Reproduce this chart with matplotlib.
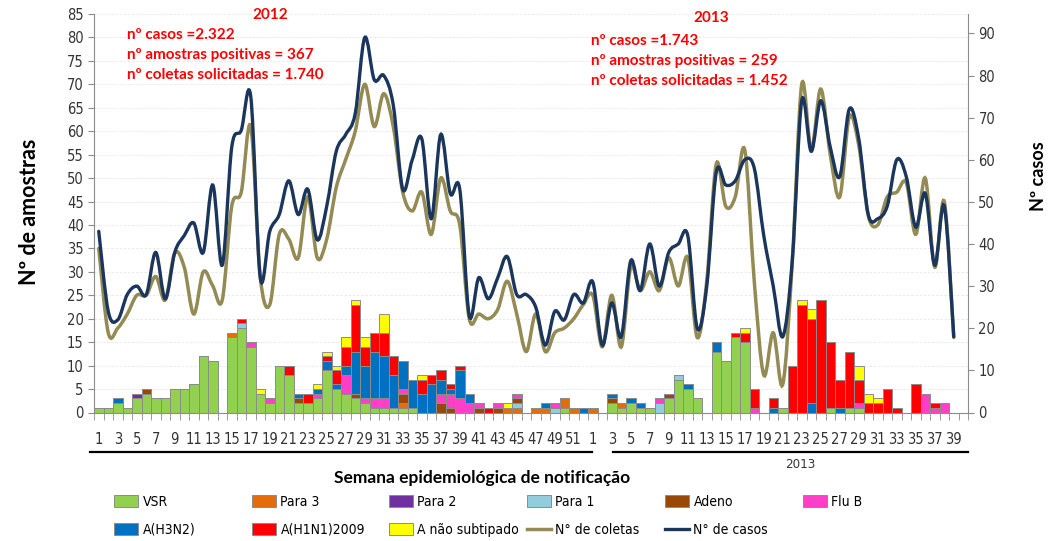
import numpy as np
import matplotlib
matplotlib.use("Agg")
import matplotlib.pyplot as plt
from matplotlib.path import Path
from matplotlib.patches import PathPatch, Patch
from matplotlib.lines import Line2D

# ---- data (semana epidemiologica: 2012 s1-52, 2013 s1-40) ----
weeks_2012 = list(range(1, 53))
weeks_2013 = list(range(1, 41))

vsr_2012 = [1, 1, 2, 1, 3, 4, 3, 3, 5, 5, 6, 12, 11, 0, 16, 18, 14, 4, 2, 10,
            8, 2, 2, 3, 9, 5, 4, 3, 2, 1, 1, 1, 1, 1, 0, 0, 0, 0, 0, 0,
            0, 0, 0, 0, 0, 0, 0, 0, 0, 1, 0, 0]
vsr_2013 = [0, 0, 2, 1, 2, 1, 1, 0, 3, 7, 5, 3, 0, 13, 11, 16, 15, 0, 0, 0,
            1, 0, 0, 0, 0, 1, 0, 1, 1, 0, 0, 0, 0, 0, 0, 0, 0, 0, 0, 0]
para3_2012 = [0, 0, 0, 0, 0, 0, 0, 0, 0, 0, 0, 0, 0, 0, 1, 0, 0, 0, 0, 0,
              0, 0, 0, 0, 0, 0, 0, 0, 0, 0, 0, 0, 1, 0, 0, 0, 0, 0, 0, 0,
              0, 0, 0, 1, 1, 0, 1, 1, 0, 2, 1, 0]
para3_2013 = [1, 0, 0, 1, 0, 0, 0, 0, 0, 0, 0, 0, 0, 0, 0, 0, 0, 0, 0, 0,
              0, 0, 0, 0, 0, 0, 0, 0, 0, 0, 0, 0, 0, 0, 0, 0, 0, 0, 0, 0]
para2_2012 = [0, 0, 0, 0, 1, 0, 0, 0, 0, 0, 0, 0, 0, 0, 0, 0, 0, 0, 0, 0,
              0, 0, 0, 0, 0, 0, 0, 0, 0, 0, 0, 0, 0, 0, 0, 0, 0, 0, 0, 0,
              0, 0, 0, 0, 0, 0, 0, 0, 0, 0, 0, 0]
para2_2013 = [0] * 40
para1_2012 = [0, 0, 0, 0, 0, 0, 0, 0, 0, 0, 0, 0, 0, 0, 0, 1, 0, 0, 0, 0,
              0, 0, 0, 0, 0, 0, 0, 0, 0, 0, 0, 0, 0, 0, 0, 0, 0, 0, 0, 0,
              0, 0, 0, 0, 1, 0, 0, 0, 1, 0, 0, 0]
para1_2013 = [0, 0, 0, 0, 0, 0, 0, 2, 0, 1, 0, 0, 0, 0, 0, 0, 0, 0, 0, 0,
              0, 0, 0, 0, 0, 0, 0, 0, 0, 0, 0, 0, 0, 0, 0, 0, 0, 0, 0, 0]
adeno_2012 = [0, 0, 0, 0, 0, 1, 0, 0, 0, 0, 0, 0, 0, 0, 0, 0, 0, 0, 0, 0,
              0, 1, 0, 0, 0, 0, 0, 1, 0, 0, 0, 0, 2, 0, 0, 0, 2, 1, 0, 0,
              1, 0, 1, 0, 1, 0, 0, 0, 0, 0, 0, 0]
adeno_2013 = [0, 0, 1, 0, 0, 0, 0, 0, 1, 0, 0, 0, 0, 0, 0, 0, 0, 0, 0, 0,
              0, 0, 0, 0, 0, 0, 0, 0, 0, 0, 0, 0, 0, 0, 0, 0, 0, 0, 0, 0]
flub_2012 = [0, 0, 0, 0, 0, 0, 0, 0, 0, 0, 0, 0, 0, 0, 0, 0, 1, 0, 1, 0,
             0, 0, 0, 1, 0, 0, 4, 0, 1, 2, 2, 0, 1, 0, 0, 0, 2, 3, 3, 2,
             1, 0, 1, 0, 1, 0, 0, 0, 1, 0, 0, 0]
flub_2013 = [0, 0, 0, 0, 0, 0, 0, 1, 0, 0, 0, 0, 0, 0, 0, 0, 0, 1, 0, 0,
             0, 0, 0, 0, 0, 0, 0, 0, 1, 0, 0, 0, 0, 0, 0, 4, 1, 2, 0, 0]
h3n2_2012 = [0, 0, 1, 0, 0, 0, 0, 0, 0, 0, 0, 0, 0, 0, 0, 0, 0, 0, 0, 0,
             0, 1, 0, 1, 2, 1, 2, 9, 7, 10, 9, 7, 6, 6, 4, 6, 3, 1, 6, 2,
             0, 0, 0, 0, 0, 0, 0, 1, 0, 0, 0, 1]
h3n2_2013 = [0, 0, 1, 0, 1, 1, 0, 0, 0, 0, 1, 0, 0, 2, 0, 0, 0, 0, 0, 1,
             0, 0, 0, 2, 0, 0, 1, 0, 0, 0, 0, 0, 0, 0, 0, 0, 0, 0, 0, 0]
h1n1_2012 = [0, 0, 0, 0, 0, 0, 0, 0, 0, 0, 0, 0, 0, 0, 0, 1, 0, 0, 0, 0,
             2, 0, 2, 0, 1, 3, 4, 10, 4, 4, 5, 4, 0, 0, 3, 2, 2, 1, 1, 0,
             0, 1, 0, 0, 0, 0, 0, 0, 0, 0, 0, 0]
h1n1_2013 = [0, 0, 0, 0, 0, 0, 0, 0, 0, 0, 0, 0, 0, 0, 0, 1, 2, 4, 0, 2,
             0, 10, 23, 18, 24, 14, 6, 12, 5, 2, 2, 5, 1, 0, 6, 0, 1, 0, 0, 0]
anst_2012 = [0, 0, 0, 0, 0, 0, 0, 0, 0, 0, 0, 0, 0, 0, 0, 0, 0, 1, 0, 0,
             0, 0, 0, 1, 1, 1, 2, 1, 2, 0, 4, 0, 0, 0, 1, 0, 0, 0, 0, 0,
             0, 0, 0, 1, 0, 0, 0, 0, 0, 0, 0, 0]
anst_2013 = [0, 0, 0, 0, 0, 0, 0, 0, 0, 0, 0, 0, 0, 0, 0, 0, 1, 0, 0, 0,
             0, 0, 1, 2, 0, 0, 0, 0, 3, 2, 1, 0, 0, 0, 0, 0, 0, 0, 0, 0]

coletas_2012 = [35, 17, 18, 21, 25, 25, 29, 24, 34, 31, 21, 30, 27, 24, 44, 47, 61, 29, 23, 38,
                37, 33, 46, 33, 37, 48, 54, 60, 70, 61, 68, 61, 47, 43, 47, 38, 50, 43, 40, 20,
                21, 20, 22, 28, 21, 13, 21, 13, 17, 18, 20, 23]
coletas_2013 = [25, 14, 25, 14, 31, 26, 30, 26, 33, 27, 33, 16, 28, 53, 44, 46, 56, 28, 8, 17,
                6, 32, 70, 56, 69, 55, 46, 63, 57, 42, 40, 46, 47, 49, 38, 50, 31, 45, 16]
casos_2012 = [43, 24, 22, 28, 30, 28, 38, 27, 38, 42, 45, 38, 54, 35, 63, 67, 75, 32, 43, 47,
              55, 47, 53, 41, 49, 62, 66, 71, 89, 79, 80, 73, 53, 60, 65, 46, 66, 52, 53, 23,
              32, 27, 32, 37, 28, 28, 25, 16, 24, 22, 28, 26]
casos_2013 = [31, 16, 26, 18, 36, 29, 40, 30, 38, 40, 42, 20, 30, 57, 54, 55, 60, 58, 42, 30,
              18, 36, 74, 62, 74, 63, 56, 72, 65, 47, 46, 49, 60, 56, 44, 52, 35, 49, 18]

series = [
    ("VSR", vsr_2012 + vsr_2013, "#92D050"),
    ("Para 3", para3_2012 + para3_2013, "#E46C0A"),
    ("Para 2", para2_2012 + para2_2013, "#7030A0"),
    ("Para 1", para1_2012 + para1_2013, "#93CDDD"),
    ("Adeno", adeno_2012 + adeno_2013, "#984807"),
    ("Flu B", flub_2012 + flub_2013, "#FF3FC8"),
    ("A(H3N2)", h3n2_2012 + h3n2_2013, "#0070C0"),
    ("A(H1N1)2009", h1n1_2012 + h1n1_2013, "#FF0000"),
    ("A não subtipado", anst_2012 + anst_2013, "#FFFF00"),
]
col_coletas = "#948A54"
col_casos = "#1B365D"

narrow = ["DejaVu Sans"]
boldfont = ["Lato", "DejaVu Sans"]


def smooth_path(xs, ys):
    # bezier through every point, like Excel's "smoothed line"
    pts = np.column_stack([xs, ys]).astype(float)
    n = len(pts)
    verts = [pts[0]]
    codes = [Path.MOVETO]
    for i in range(n - 1):
        p0 = pts[max(i - 1, 0)]
        p1 = pts[i]
        p2 = pts[i + 1]
        p3 = pts[min(i + 2, n - 1)]
        verts += [p1 + (p2 - p0) / 6, p2 - (p3 - p1) / 6, p2]
        codes += [Path.CURVE4] * 3
    return Path(verts, codes)


W, H = 1057, 541
fig = plt.figure(figsize=(W / 100, H / 100), dpi=100)
fig.patch.set_facecolor("white")
ax = fig.add_axes([94 / W, 1 - 412.5 / H, (968 - 94) / W, (412.5 - 14) / H])
ax2 = ax.twinx()

n = len(weeks_2012) + len(weeks_2013)
x = np.arange(n)
bottom = np.zeros(n)
for name, vals, c in series:
    v = np.array(vals, dtype=float)
    ax.bar(x, v, width=1.0, bottom=bottom, color=c, edgecolor="#8C8C8C",
           linewidth=0.7, zorder=2)
    bottom += v

col_y = coletas_2012 + coletas_2013
cas_y = casos_2012 + casos_2013
ax.add_patch(PathPatch(smooth_path(np.arange(len(col_y)), col_y), fill=False,
                       edgecolor=col_coletas, lw=2.5, zorder=3, capstyle="round"))
ax2.add_patch(PathPatch(smooth_path(np.arange(len(cas_y)), cas_y), fill=False,
                        edgecolor=col_casos, lw=2.4, zorder=3, capstyle="round"))

ax.set_xlim(-0.5, n - 0.5)
ax.set_ylim(0, 85)
ax2.set_ylim(0, 94.6)
ax.set_yticks(np.arange(0, 86, 5))
ax2.set_yticks(np.arange(0, 91, 10))

labels = [str(w) if i % 2 == 0 else "" for i, w in enumerate(weeks_2012 + weeks_2013)]
ax.set_xticks(x)
ax.set_xticklabels(labels, fontsize=10.5, family=narrow, stretch="condensed", color="#333333")
ax.set_xticks(np.arange(-0.5, n, 1), minor=True)
ax.tick_params(axis="x", which="major", length=0, pad=14)
ax.tick_params(axis="x", which="minor", length=5, color="#8C8C8C")
ax.tick_params(axis="y", length=4, color="#8C8C8C", labelsize=10.5, labelcolor="#333333")
ax2.tick_params(axis="y", length=4, color="#8C8C8C", labelsize=10.5, labelcolor="#333333")
for t in ax.get_yticklabels() + ax2.get_yticklabels():
    t.set_family(narrow)
    t.set_stretch("condensed")

ax.grid(axis="y", color="#E6E6E6", linestyle=(0, (3, 2)), linewidth=0.6, zorder=0)
ax.set_axisbelow(True)
for a in (ax, ax2):
    a.spines["top"].set_visible(False)
    for s in ("left", "right", "bottom"):
        a.spines[s].set_color("#8C8C8C")
ax.spines["right"].set_visible(False)
ax2.spines["left"].set_visible(False)
ax2.spines["bottom"].set_visible(False)


def ftext(px, py, s, **kw):
    fig.text(px / W, 1 - py / H, s, **kw)


ftext(30, 212, "Nº de amostras", rotation=90, ha="center", va="center",
      fontsize=15.5, fontweight="bold", family=boldfont)
ftext(1038, 176, "Nº casos", rotation=90, ha="center", va="center",
      fontsize=13, fontweight="bold", family=boldfont)

red = dict(color="#FF0000", fontsize=11, fontweight="bold", family=boldfont, va="center")
ftext(270, 15, "2012", ha="center", **red)
ftext(127, 35, "nº casos =2.322", ha="left", **red)
ftext(127, 55, "nº amostras positivas = 367", ha="left", **red)
ftext(127, 75, "nº coletas solicitadas = 1.740", ha="left", **red)
ftext(711, 18, "2013", ha="center", **red)
ftext(591, 41, "nº casos =1.743", ha="left", **red)
ftext(591, 61, "nº amostras positivas = 259", ha="left", **red)
ftext(591, 81, "nº coletas solicitadas = 1.452", ha="left", **red)

fig.add_artist(Line2D([90 / W, 592 / W], [1 - 452 / H] * 2, color="black", lw=1.6))
fig.add_artist(Line2D([613 / W, 968 / W], [1 - 452 / H] * 2, color="black", lw=1.6))
ftext(800, 465, "2013", ha="center", va="center", fontsize=9.5, family=narrow,
      stretch="condensed", color="#333333")
ftext(482, 478, "Semana epidemiológica de notificação", ha="center", va="center",
      fontsize=12.5, fontweight="bold", family=boldfont)

# legend: six columns at fixed positions, two rows
handles = [Patch(facecolor=c, edgecolor="#8C8C8C", linewidth=0.7) for _, _, c in series]
names = [s[0] for s in series]
handles += [Line2D([], [], color=col_coletas, lw=2.5), Line2D([], [], color=col_casos, lw=2.4)]
names += ["N° de coletas", "N° de casos"]
col_x = [114, 252, 389, 527, 665, 803]
for j, px in enumerate(col_x):
    idx = [j] + ([j + 6] if j + 6 < len(names) else [])
    fig.legend([handles[i] for i in idx], [names[i] for i in idx], loc="upper left",
               bbox_to_anchor=(px / W, 1 - 495 / H), frameon=False,
               prop={"family": narrow, "size": 10, "stretch": "condensed"},
               handlelength=1.75, handleheight=0.9, handletextpad=0.3,
               labelspacing=1.0, borderpad=0, borderaxespad=0)

fig.savefig("out.png", dpi=100)
